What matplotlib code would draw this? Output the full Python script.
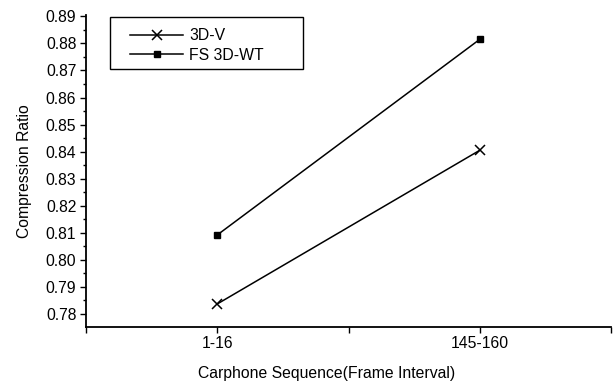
import matplotlib
matplotlib.use("Agg")
import matplotlib.pyplot as plt
from matplotlib.ticker import MultipleLocator, FixedLocator, FormatStrFormatter
from matplotlib.patches import Rectangle

plt.rcParams['font.family'] = ['Liberation Sans', 'DejaVu Sans']

categories = ["1-16", "145-160"]
cat_pos = [1, 3]
v3d = [0.7837, 0.8405]
fs3dwt = [0.8092, 0.8815]

W, H = 614, 381
FS = 11.3
fig = plt.figure(figsize=(W/100, H/100), dpi=100)
ax = fig.add_axes([86/W, 1-326.7/H, (611-86)/W, (326.7-15)/H])

ax.plot(cat_pos, v3d, color='black', lw=1.1, marker='x', ms=7, mew=1.1, label='3D-V')
ax.plot(cat_pos, fs3dwt, color='black', lw=1.1, marker='s', ms=5, label='FS 3D-WT')

ax.set_xlim(0, 4)
ax.set_ylim(0.7753, 0.8905)
ax.xaxis.set_major_locator(FixedLocator([0, 1, 2, 3, 4]))
ax.set_xticklabels(["", categories[0], "", categories[1], ""])
ax.yaxis.set_major_locator(MultipleLocator(0.01))
ax.yaxis.set_minor_locator(MultipleLocator(0.005))
ax.yaxis.set_major_formatter(FormatStrFormatter('%.2f'))
ax.spines['top'].set_visible(False)
ax.spines['right'].set_visible(False)
ax.spines['left'].set_linewidth(1.3)
ax.spines['bottom'].set_linewidth(1.3)
ax.tick_params(axis='both', labelsize=FS, direction='out', length=4, width=1, pad=3)
ax.tick_params(axis='y', which='minor', direction='out', length=2.5, width=1)
ax.set_ylabel("Compression Ratio", fontsize=FS, labelpad=10)
ax.set_xlabel("Carphone Sequence(Frame Interval)", fontsize=FS, labelpad=10.5)
ax.xaxis.label.set_x(0.459)

leg = ax.legend(loc='upper left', bbox_to_anchor=(130/W, 1-28/H), bbox_transform=fig.transFigure,
                frameon=False, fontsize=FS, handlelength=3.4, borderpad=0,
                labelspacing=0.3, handletextpad=0.35, borderaxespad=0)
fig.patches.append(Rectangle((110/W, 1-69/H), (303-110)/W, (69-17)/H, transform=fig.transFigure,
                             fill=False, edgecolor='black', lw=1.0))

fig.savefig("out.png", dpi=100)
